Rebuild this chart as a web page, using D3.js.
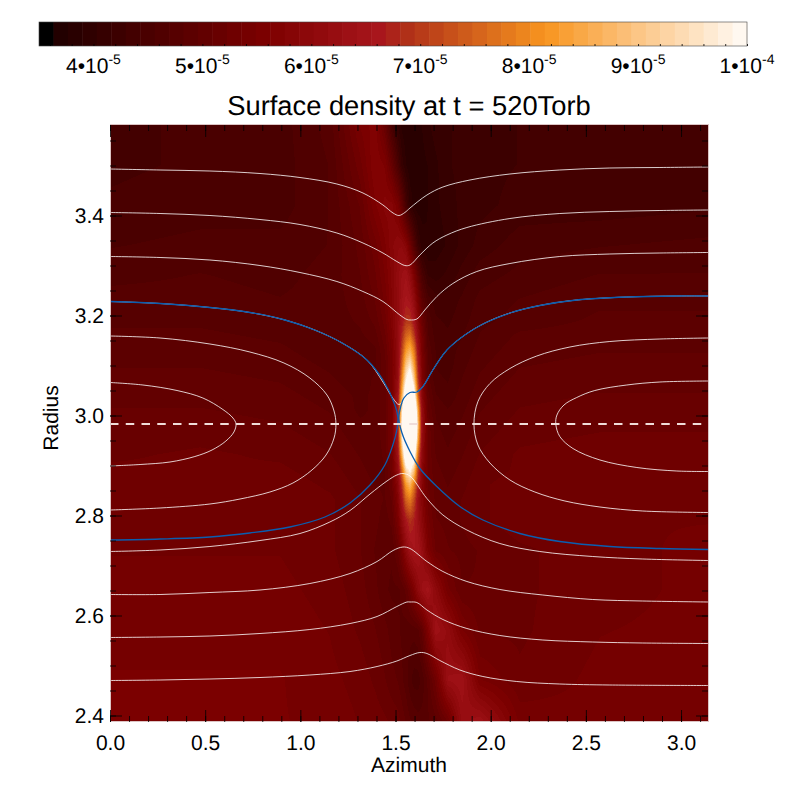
<!DOCTYPE html>
<html>
<head>
<meta charset="utf-8">
<script src="https://cdnjs.cloudflare.com/ajax/libs/d3/7.8.5/d3.min.js"></script>
<style>
	html, body { margin: 0; padding: 0; background: #fff; }
	svg { display: block; font-family: "Liberation Sans", Arial, sans-serif; fill: #000; text-rendering: geometricPrecision; }
</style>
</head>
<body>
<script>
// density field in units of 1e-5, rows go from the inner radius outwards
const AZIMUTHS = [0, .473, .893, 1.155, 1.313, 1.392, 1.445, 1.481, 1.513, 1.534, 1.555, 1.576, 1.597, 1.618, 1.639, 1.67, 1.712, 1.775, 1.849, 1.943, 2.153, 2.574, 3.142];
const RADII = [2.387, 2.471, 2.571, 2.651, 2.731, 2.791, 2.831, 2.861, 2.891, 2.921, 2.951, 2.981, 3.011, 3.041, 3.071, 3.101, 3.131, 3.161, 3.191, 3.231, 3.281, 3.341, 3.421, 3.501, 3.581];
const DENSITY = [
	[5.5,5.5,5.5,5.45,5.35,5.3,5.25,5.2,5.15,5.05,4.95,4.85,4.8,4.75,4.75,4.8,4.9,5.2,6.2,6.4,5.45,5.4,5.45],
	[5.5,5.5,5.5,5.4,5.3,5.2,5.1,5,4.95,4.85,4.75,4.6,4.5,4.5,4.6,4.85,5.3,6.3,6.4,5.5,5.25,5.4,5.45],
	[5.45,5.45,5.45,5.35,5.2,5.1,5,4.9,4.85,4.8,4.75,4.75,4.75,4.8,5,5.6,6.4,6.1,5.5,5.2,5.2,5.35,5.4],
	[5.4,5.4,5.4,5.3,5.15,5,4.85,4.8,4.8,4.85,5,5.25,5.6,6,6.3,6.5,6,5.4,5.1,5.1,5.2,5.3,5.4],
	[5.35,5.35,5.35,5.25,5.1,4.95,4.85,4.85,5.1,5.5,6,6.4,6.55,6.5,6.2,5.6,5.2,5.1,5.05,5.1,5.2,5.3,5.4],
	[5.35,5.35,5.35,5.25,5.1,5,4.9,5,5.5,6.1,6.6,6.9,6.7,6.3,5.9,5.4,5.1,5.05,5.1,5.2,5.3,5.35,5.35],
	[5.3,5.3,5.3,5.25,5.1,5,4.95,5.1,5.7,6.5,7.5,7.8,7.2,6.3,5.8,5.3,5.05,5,5.1,5.2,5.3,5.35,5.35],
	[5.3,5.3,5.3,5.2,5.05,4.95,4.95,5.2,5.9,6.9,8.2,8.7,7.8,6.6,5.8,5.2,5.05,4.95,5.05,5.2,5.3,5.35,5.35],
	[5.25,5.25,5.25,5.15,5,4.9,4.95,5.3,6.1,7.6,9.4,10,9,7,5.9,5.2,5,4.9,5,5.15,5.25,5.3,5.3],
	[5.2,5.25,5.2,5.1,4.95,4.85,5,5.4,6.4,8.6,11,11.5,10.5,7.6,6,5.2,4.95,4.85,4.95,5.1,5.25,5.3,5.3],
	[5.15,5.2,5.15,5.05,4.9,4.85,5.05,5.5,6.6,9.5,12,13,12,8.5,6.2,5.2,4.9,4.8,4.9,5.05,5.2,5.25,5.25],
	[5.1,5.15,5.1,5,4.85,4.85,5.05,5.5,6.7,10,13,14,13,9,6.3,5.2,4.85,4.75,4.85,5,5.15,5.2,5.2],
	[5.1,5.1,5.05,4.95,4.8,4.85,5.05,5.5,6.6,9.5,12,13,12,8.5,6.2,5.1,4.8,4.7,4.8,4.95,5.1,5.15,5.15],
	[5.05,5.05,5,4.9,4.8,4.85,5.05,5.5,6.4,8.6,11,12,10.5,7.5,5.9,5,4.7,4.6,4.75,4.9,5.05,5.1,5.1],
	[5,5,4.95,4.85,4.75,4.85,5.05,5.45,6.2,8,9.8,10.8,9.2,7,5.7,4.9,4.6,4.55,4.7,4.85,5,5.05,5.05],
	[4.95,4.95,4.9,4.8,4.7,4.8,5.05,5.45,6.1,7.5,9,9.6,8.4,6.7,5.6,4.85,4.55,4.5,4.65,4.8,4.95,5,5],
	[4.9,4.9,4.85,4.75,4.7,4.8,5.1,5.5,6.1,7.1,8.2,8.6,7.8,6.4,5.5,4.8,4.55,4.5,4.6,4.75,4.9,4.95,4.95],
	[4.85,4.85,4.8,4.75,4.8,4.9,5.2,5.6,6.1,6.8,7.5,7.7,7,6.1,5.4,4.7,4.5,4.45,4.55,4.7,4.85,4.9,4.9],
	[4.8,4.8,4.75,4.75,4.85,5,5.3,5.7,6.1,6.5,6.9,6.9,6.5,5.8,5.2,4.65,4.45,4.4,4.5,4.65,4.75,4.85,4.85],
	[4.75,4.75,4.7,4.75,4.9,5.1,5.4,5.75,6.1,6.4,6.6,6.5,6.1,5.5,4.9,4.5,4.35,4.35,4.45,4.6,4.7,4.8,4.8],
	[4.65,4.7,4.65,4.75,4.95,5.2,5.5,5.8,6.1,6.3,6.4,6.1,5.6,5,4.5,4.15,4.1,4.2,4.35,4.5,4.6,4.7,4.7],
	[4.55,4.6,4.6,4.7,5,5.3,5.6,5.85,6,6,5.8,5.3,4.7,4.2,3.95,3.9,3.95,4.05,4.2,4.35,4.5,4.55,4.6],
	[4.45,4.5,4.5,4.7,5.1,5.6,5.8,5.8,5.5,5,4.4,4,3.85,3.8,3.85,3.9,4,4.1,4.2,4.25,4.35,4.35,4.4],
	[4.4,4.45,4.5,4.7,5.3,5.75,5.6,5.1,4.5,4.1,3.9,3.8,3.8,3.8,3.85,3.9,4,4.15,4.2,4.25,4.3,4.35,4.35],
	[4.4,4.45,4.5,4.75,5.5,5.7,5.1,4.4,4,3.85,3.8,3.8,3.8,3.85,3.9,4,4.1,4.15,4.2,4.25,4.3,4.35,4.35]
];

// streamlines, read as [azimuth, radius]
const LINE_A = [[0,3.493],[.263,3.491],[.525,3.489],[.788,3.484],[.998,3.476],[1.192,3.463],[1.329,3.445],[1.434,3.421],[1.487,3.405],[1.518,3.4],[1.549,3.406],[1.576,3.415],[1.665,3.441],[1.749,3.457],[1.891,3.471],[2.101,3.483],[2.363,3.491],[2.626,3.495],[2.889,3.496],[3.142,3.497]];
const LINE_B = [[0,3.406],[.263,3.404],[.525,3.4],[.788,3.392],[.998,3.382],[1.192,3.365],[1.329,3.345],[1.434,3.325],[1.507,3.308],[1.549,3.3],[1.576,3.301],[1.628,3.321],[1.696,3.345],[1.77,3.361],[1.875,3.376],[2.101,3.394],[2.363,3.404],[2.626,3.408],[2.889,3.41],[3.142,3.411]];
const LINE_C = [[0,3.318],[.263,3.316],[.525,3.311],[.788,3.3],[.998,3.286],[1.192,3.268],[1.329,3.248],[1.434,3.228],[1.523,3.201],[1.56,3.192],[1.576,3.191],[1.612,3.193],[1.654,3.211],[1.717,3.238],[1.801,3.264],[1.927,3.288],[2.101,3.304],[2.363,3.318],[2.626,3.323],[2.889,3.325],[3.142,3.326]];
const LINE_V = [[0,3.228],[.263,3.224],[.525,3.216],[.735,3.206],[.919,3.191],[1.082,3.17],[1.224,3.144],[1.35,3.111],[1.434,3.067],[1.487,3.034],[1.518,3.022],[1.544,3.031],[1.576,3.048],[1.612,3.047],[1.644,3.058],[1.696,3.091],[1.77,3.131],[1.864,3.161],[1.97,3.185],[2.101,3.205],[2.258,3.22],[2.452,3.231],[2.715,3.237],[2.978,3.239],[3.142,3.239]];
const LINE_F = [[0,2.728],[.263,2.731],[.525,2.738],[.788,2.75],[.998,2.764],[1.155,2.787],[1.261,2.81],[1.366,2.843],[1.455,2.869],[1.507,2.881],[1.539,2.884],[1.576,2.879],[1.665,2.834],[1.749,2.801],[1.875,2.771],[2.048,2.744],[2.258,2.728],[2.536,2.718],[2.799,2.713],[3.142,2.71]];
const LINE_G = [[0,2.642],[.263,2.642],[.525,2.646],[.788,2.651],[1.05,2.664],[1.261,2.684],[1.403,2.708],[1.487,2.73],[1.539,2.737],[1.576,2.734],[1.665,2.708],[1.749,2.688],[1.875,2.668],[2.048,2.652],[2.274,2.641],[2.536,2.632],[2.799,2.629],[3.142,2.627]];
const LINE_H = [[0,2.556],[.263,2.557],[.525,2.559],[.788,2.564],[1.05,2.572],[1.261,2.584],[1.403,2.598],[1.507,2.618],[1.56,2.627],[1.576,2.627],[1.612,2.626],[1.665,2.611],[1.749,2.592],[1.875,2.574],[2.048,2.56],[2.274,2.551],[2.536,2.547],[2.799,2.545],[3.142,2.544]];
const LINE_J = [[0,2.47],[.263,2.471],[.525,2.473],[.788,2.476],[1.05,2.481],[1.261,2.488],[1.403,2.498],[1.507,2.509],[1.576,2.52],[1.628,2.526],[1.665,2.524],[1.733,2.51],[1.838,2.491],[1.959,2.478],[2.137,2.468],[2.363,2.463],[2.626,2.461],[3.142,2.46]];
const LOOP_LEFT_IN = [[0,3.066],[.173,3.061],[.352,3.05],[.488,3.035],[.593,3.012],[.646,2.995],[.662,2.983],[.651,2.967],[.609,2.949],[.536,2.931],[.446,2.918],[.315,2.907],[.158,2.902],[0,2.899]];
const LOOP_LEFT_OUT = [[0,3.159],[.263,3.155],[.525,3.143],[.735,3.127],[.914,3.105],[1.05,3.075],[1.14,3.041],[1.177,3.009],[1.187,2.983],[1.177,2.955],[1.135,2.921],[1.061,2.891],[.961,2.865],[.84,2.847],[.683,2.833],[.525,2.823],[.263,2.815],[0,2.811]];
const LOOP_RIGHT_OUT = [[3.142,3.155],[2.889,3.153],[2.626,3.148],[2.416,3.137],[2.242,3.119],[2.101,3.094],[1.996,3.064],[1.933,3.028],[1.912,2.983],[1.933,2.941],[1.996,2.905],[2.101,2.871],[2.232,2.847],[2.39,2.829],[2.574,2.817],[2.799,2.809],[3.142,2.806]];
const LOOP_RIGHT_IN = [[3.142,3.069],[2.889,3.067],[2.715,3.061],[2.547,3.05],[2.452,3.036],[2.385,3.021],[2.348,3.001],[2.342,2.983],[2.363,2.958],[2.432,2.934],[2.574,2.911],[2.768,2.896],[2.978,2.889],[3.142,2.888]];
const BLUE_LEFT = [[0,3.228],[.263,3.224],[.525,3.216],[.735,3.206],[.919,3.191],[1.082,3.17],[1.224,3.144],[1.35,3.111],[1.434,3.071],[1.497,3.021],[1.513,2.995],[1.507,2.971],[1.486,2.941],[1.444,2.901],[1.366,2.861],[1.261,2.825],[1.129,2.797],[.945,2.777],[.735,2.765],[.525,2.757],[.263,2.753],[0,2.751]];
const BLUE_RIGHT = [[3.142,3.239],[2.978,3.239],[2.715,3.237],[2.452,3.231],[2.258,3.22],[2.101,3.205],[1.97,3.185],[1.864,3.161],[1.77,3.131],[1.696,3.091],[1.644,3.058],[1.612,3.047],[1.576,3.046],[1.544,3.035],[1.523,3.011],[1.517,2.994],[1.534,2.965],[1.576,2.928],[1.628,2.894],[1.717,2.858],[1.838,2.818],[1.959,2.791],[2.153,2.764],[2.363,2.748],[2.626,2.738],[2.889,2.734],[3.142,2.732]];
const WHITE_LINES = [LINE_A, LINE_B, LINE_C, LINE_V, LINE_F, LINE_G, LINE_H, LINE_J, LOOP_LEFT_IN, LOOP_LEFT_OUT, LOOP_RIGHT_OUT, LOOP_RIGHT_IN];
const BLUE_LINES = [BLUE_LEFT, BLUE_RIGHT];
const CENTER_RADIUS = 2.983;

const BAR_TICKS = [4, 5, 6, 7, 8, 9, 10];
const BAR_LABELS = ['4•10', '5•10', '6•10', '7•10', '8•10', '9•10', '1•10'];
const BAR_EXPONENTS = ['-5', '-5', '-5', '-5', '-5', '-5', '-4'];
const AZIMUTH_TICKS = [0, .5, 1, 1.5, 2, 2.5, 3];
const RADIUS_TICKS = [2.4, 2.6, 2.8, 3, 3.2, 3.4];
const LEVELS = 49;

const WIDTH = 786, HEIGHT = 786;
let svg = d3.select('body').append('svg')
	.attr('width', WIDTH)
	.attr('height', HEIGHT);

let x = d3.scaleLinear().domain([0, Math.PI]).range([110, 708]);
let y = d3.scaleLinear().domain([2.387, 3.581]).range([722, 125]);
let barX = d3.scaleLinear().domain([3.5, 10]).range([39, 747]);

let ramp = d3.scaleLinear()
	.domain([0, .02, .16, .32, .48, .52, .72, .86, 1])
	.range(['#000000', '#220000', '#4e0000', '#7d0000', '#a8161c', '#b03018', '#f8951f', '#fcc88a', '#fff8f0'])
	.clamp(true);
// the colour table has a fixed number of levels
let color = value => {
	let t = (value - 3.5) / 6.5;
	let level = Math.max(0, Math.min(LEVELS - 1, Math.floor(t * LEVELS)));
	return ramp(level / (LEVELS - 1));
};

// density map: bilinear shading of the grid, pixel by pixel
let canvas = document.createElement('canvas');
canvas.width = 598;
canvas.height = 597;
let ctx = canvas.getContext('2d');
let pickCell = (list, value) => {
	let i = Math.max(1, Math.min(list.length - 1, d3.bisectLeft(list, value)));
	return [i - 1, (value - list[i - 1]) / (list[i] - list[i - 1])];
};
for (let py = 0; py < canvas.height; py++) {
	let [row, tr] = pickCell(RADII, y.invert(125 + py + .5));
	for (let px = 0; px < canvas.width; px++) {
		let [col, ta] = pickCell(AZIMUTHS, x.invert(110 + px + .5));
		let low = d3.interpolateNumber(DENSITY[row][col], DENSITY[row][col + 1])(ta);
		let high = d3.interpolateNumber(DENSITY[row + 1][col], DENSITY[row + 1][col + 1])(ta);
		ctx.fillStyle = color(d3.interpolateNumber(low, high)(tr));
		ctx.fillRect(px, py, 1, 1);
	}
}
svg.append('image')
	.attr('x', 110)
	.attr('y', 125)
	.attr('width', canvas.width)
	.attr('height', canvas.height)
	.attr('href', canvas.toDataURL());

// streamlines
let line = d3.line()
	.x(d => x(d[0]))
	.y(d => y(d[1]))
	.curve(d3.curveCatmullRom.alpha(.5));

svg.selectAll('.stream')
	.data(WHITE_LINES)
	.enter()
	.append('path')
	.attr('class', 'stream')
	.attr('d', line)
	.attr('fill', 'none')
	.attr('stroke', '#fff')
	.attr('stroke-opacity', .8)
	.attr('stroke-width', 1);

svg.selectAll('.separatrix')
	.data(BLUE_LINES)
	.enter()
	.append('path')
	.attr('class', 'separatrix')
	.attr('d', line)
	.attr('fill', 'none')
	.attr('stroke', '#0a5eb0')
	.attr('stroke-width', 1.3);

svg.append('line')
	.attr('x1', x(0))
	.attr('x2', x(3.11))
	.attr('y1', y(CENTER_RADIUS))
	.attr('y2', y(CENTER_RADIUS))
	.attr('stroke', '#f0dcd8')
	.attr('stroke-width', 2)
	.attr('stroke-dasharray', '8.5 7.25');

// pale edge around the map
svg.append('rect')
	.attr('x', 110.5)
	.attr('y', 124.5)
	.attr('width', 598)
	.attr('height', 597)
	.attr('fill', 'none')
	.attr('stroke', '#dcc4c4')
	.attr('stroke-width', 1);

// axes, ticks on all four sides
let tidy = g => {
	g.select('.domain').remove();
	g.selectAll('line').attr('stroke', '#000').attr('stroke-opacity', .8);
	g.selectAll('text').attr('font-size', 21).attr('fill', '#000');
};
let minorX = d3.range(0, 3.15, .1);
let minorY = d3.range(2.4, 3.58, .05);

svg.append('g').attr('transform', 'translate(0,722)').call(d3.axisBottom(x).tickValues(minorX).tickSize(-6).tickFormat('')).call(tidy);
svg.append('g').attr('transform', 'translate(0,125)').call(d3.axisTop(x).tickValues(minorX).tickSize(-6).tickFormat('')).call(tidy);
svg.append('g').attr('transform', 'translate(110,0)').call(d3.axisLeft(y).tickValues(minorY).tickSize(-6).tickFormat('')).call(tidy);
svg.append('g').attr('transform', 'translate(708,0)').call(d3.axisRight(y).tickValues(minorY).tickSize(-6).tickFormat('')).call(tidy);

svg.append('g').attr('transform', 'translate(0,722)')
	.call(d3.axisBottom(x).tickValues(AZIMUTH_TICKS).tickSize(-12).tickPadding(7).tickFormat(d3.format('.1f')))
	.call(tidy)
	.selectAll('text').attr('dy', '1em');
svg.append('g').attr('transform', 'translate(0,125)')
	.call(d3.axisTop(x).tickValues(AZIMUTH_TICKS).tickSize(-12).tickFormat(''))
	.call(tidy);
svg.append('g').attr('transform', 'translate(110,0)')
	.call(d3.axisLeft(y).tickValues(RADIUS_TICKS).tickSize(-12).tickPadding(6).tickFormat(d3.format('.1f')))
	.call(tidy);
svg.append('g').attr('transform', 'translate(708,0)')
	.call(d3.axisRight(y).tickValues(RADIUS_TICKS).tickSize(-12).tickFormat(''))
	.call(tidy);

svg.append('text')
	.attr('x', 409)
	.attr('y', 772)
	.attr('text-anchor', 'middle')
	.attr('font-size', 21)
	.text('Azimuth');
svg.append('text')
	.attr('transform', 'translate(58,418) rotate(-90)')
	.attr('text-anchor', 'middle')
	.attr('font-size', 21)
	.text('Radius');
svg.append('text')
	.attr('x', 409)
	.attr('y', 115)
	.attr('text-anchor', 'middle')
	.attr('font-size', 27.3)
	.text('Surface density at t = 520Torb');

// colour bar
let barStep = (barX.domain()[1] - barX.domain()[0]) / LEVELS;
svg.selectAll('.bar-step')
	.data(d3.range(LEVELS))
	.enter()
	.append('rect')
	.attr('class', 'bar-step')
	.attr('x', i => barX(3.5 + i * barStep))
	.attr('y', 22)
	.attr('width', barX(3.5 + barStep) - barX(3.5) + .5)
	.attr('height', 24)
	.attr('fill', i => ramp(i / (LEVELS - 1)));

svg.append('rect')
	.attr('x', barX(3.5))
	.attr('y', 22)
	.attr('width', barX(10) - barX(3.5))
	.attr('height', 24)
	.attr('fill', 'none')
	.attr('stroke', '#444')
	.attr('stroke-width', .6);

svg.append('g').attr('transform', 'translate(0,46)')
	.call(d3.axisBottom(barX).tickValues(d3.range(3.6, 10.01, .2)).tickSize(-2).tickFormat(''))
	.call(tidy);

let barLabels = svg.selectAll('.bar-label')
	.data(BAR_TICKS)
	.enter()
	.append('text')
	.attr('class', 'bar-label')
	.attr('x', d => barX(d))
	.attr('y', 73)
	.attr('text-anchor', 'middle')
	.attr('font-size', 21);
barLabels.append('tspan')
	.text((d, i) => BAR_LABELS[i]);
barLabels.append('tspan')
	.attr('dy', -9)
	.attr('font-size', 14)
	.text((d, i) => BAR_EXPONENTS[i]);
</script>
</body>
</html>
